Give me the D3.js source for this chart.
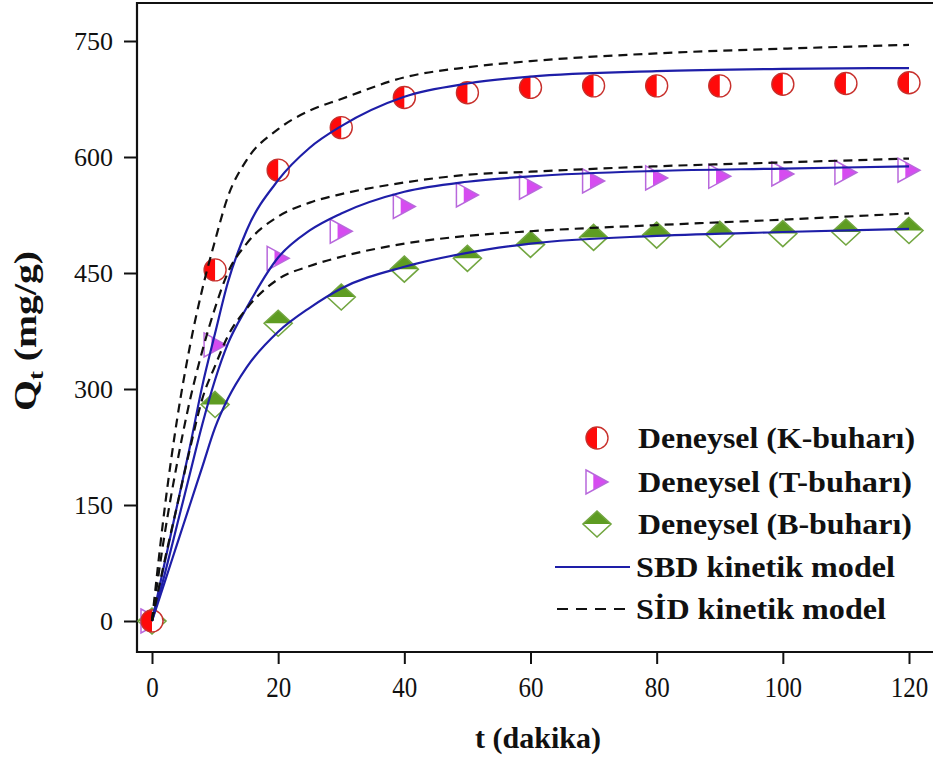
<!DOCTYPE html>
<html>
<head>
<meta charset="utf-8">
<script src="https://cdn.jsdelivr.net/npm/d3@7"></script>
<style>
  html, body { margin: 0; padding: 0; background: #fff; }
  svg { display: block; }
</style>
</head>
<body>
<script>
// measured data, t in minutes
const times = [0, 10, 20, 30, 40, 50, 60, 70, 80, 90, 100, 110, 120];
const qK = [0, 454, 583, 638, 677, 683, 690, 692, 692, 692, 694, 695, 696];
const qT = [0, 357, 469, 504, 536, 551, 561, 569, 573, 575, 578, 580, 583];
const qB = [0, 280, 385, 419, 455, 469, 487, 496, 499, 500, 501, 503, 505];

// model curves
const tModel = [0, 2, 4, 6, 8, 10, 12, 15, 20, 25, 30, 40, 50, 60, 80, 100, 120];
const sbdK = [0, 75, 150, 225, 305, 372, 437, 505, 570, 612, 640, 678, 695, 704, 711, 714, 715];
const sbdT = [0, 60, 125, 190, 255, 312, 358, 405, 470, 505, 527, 555, 568, 575, 582, 585, 588];
const sbdB = [0, 50, 100, 150, 200, 250, 287, 328, 374, 405, 430, 458, 476, 488, 498, 503, 507];
const sidK = [0, 145, 262, 355, 430, 492, 548, 596, 636, 660, 675, 703, 716, 724, 734, 740, 745];
const sidT = [0, 112, 205, 285, 350, 405, 450, 488, 523, 541, 552, 567, 577, 581, 588, 593, 598];
const sidB = [0, 78, 150, 222, 288, 330, 368, 404, 442, 459, 471, 488, 498, 504, 512, 519, 527];

const xTicks = [0, 20, 40, 60, 80, 100, 120];
const yTicks = [0, 150, 300, 450, 600, 750];
const legendLabels = ["Deneysel (K-buharı)", "Deneysel (T-buharı)", "Deneysel (B-buharı)", "SBD kinetik model", "SİD kinetik model"];

const SERIF = '"Liberation Serif", "Times New Roman", serif';
const width = 933, height = 760;
const frame = {left: 137, top: 3, bottom: 652, right: 933};

const svg = d3.select("body").append("svg").attr("width", width).attr("height", height);

const x = d3.scaleLinear().domain([0, 120]).range([152, 909]);
const y = d3.scaleLinear().domain([0, 750]).range([621, 41]);

// axes
const yAxis = svg.append("g")
    .attr("transform", `translate(${frame.left},0)`)
    .call(d3.axisLeft(y).tickValues(yTicks).tickSize(13).tickPadding(11).tickFormat(d3.format("d")));
yAxis.select(".domain").remove();
yAxis.selectAll("line").attr("stroke", "#111").attr("stroke-width", 2);
yAxis.selectAll("text")
    .style("font-family", SERIF).style("font-size", "26px").attr("fill", "#111")
    .attr("textLength", d => String(d).length * 13)
    .attr("lengthAdjust", "spacingAndGlyphs");

const xAxis = svg.append("g")
    .attr("transform", `translate(0,${frame.bottom})`)
    .call(d3.axisBottom(x).tickValues(xTicks).tickSize(12).tickPadding(12).tickFormat(d3.format("d")));
xAxis.select(".domain").remove();
xAxis.selectAll("line").attr("stroke", "#111").attr("stroke-width", 2);
xAxis.selectAll("text")
    .style("font-family", SERIF).style("font-size", "29px").attr("fill", "#111")
    .attr("textLength", d => String(d).length * 12.5)
    .attr("lengthAdjust", "spacingAndGlyphs");

// frame (right edge is cut off in the original)
svg.append("path")
    .attr("d", `M${frame.right},${frame.top}H${frame.left}V${frame.bottom}H${frame.right}`)
    .attr("fill", "none").attr("stroke", "#111").attr("stroke-width", 2.2);

// axis titles
const yTitle = svg.append("text")
    .attr("transform", "translate(36,331) rotate(-90)")
    .attr("text-anchor", "middle")
    .attr("textLength", 160)
    .attr("lengthAdjust", "spacingAndGlyphs")
    .attr("fill", "#111")
    .style("font-family", SERIF).style("font-size", "31px").style("font-weight", "bold");
yTitle.append("tspan").text("Q");
yTitle.append("tspan").text("t").style("font-size", "21px").attr("dy", "7");
yTitle.append("tspan").text(" (mg/g)").attr("dy", "-7");

svg.append("text")
    .attr("x", 538).attr("y", 748)
    .attr("text-anchor", "middle")
    .attr("textLength", 126)
    .attr("lengthAdjust", "spacingAndGlyphs")
    .attr("fill", "#111")
    .style("font-family", SERIF).style("font-size", "30px").style("font-weight", "bold")
    .text("t (dakika)");

// marker shapes
function circleMarker(g, r) {
    g.append("circle").attr("r", r).attr("fill", "#fff");
    g.append("path").attr("d", `M0,${-r}A${r},${r} 0 0 0 0,${r}Z`).attr("fill", "#ff0a0a");
    g.append("circle").attr("r", r).attr("fill", "none").attr("stroke", "#c8302c").attr("stroke-width", 1.4);
}
function triangleMarker(g, w, h) {
    const s = -w / 6;
    g.append("path").attr("d", `M${-w / 2},${-h / 2}L${w / 2},0L${-w / 2},${h / 2}Z`)
        .attr("fill", "#fff");
    g.append("path").attr("d", `M${s},${-h / 3}L${w / 2},0L${s},${h / 3}Z`).attr("fill", "#d64cf0");
    g.append("path").attr("d", `M${-w / 2},${-h / 2}L${w / 2},0L${-w / 2},${h / 2}Z`)
        .attr("fill", "none").attr("stroke", "#b868dc").attr("stroke-width", 1.5);
}
function diamondMarker(g, w, h) {
    g.append("path").attr("d", `M0,${-h / 2}L${w / 2},0L0,${h / 2}L${-w / 2},0Z`).attr("fill", "#fff");
    g.append("path").attr("d", `M0,${-h / 2}L${w / 2},0L${-w / 2},0Z`).attr("fill", "#5e9c22");
    g.append("path").attr("d", `M0,${-h / 2}L${w / 2},0L0,${h / 2}L${-w / 2},0Z`)
        .attr("fill", "none").attr("stroke", "#72a640").attr("stroke-width", 1.6);
}

const series = [
    {q: qB, draw: g => diamondMarker(g, 28, 26)},
    {q: qT, draw: g => triangleMarker(g, 22, 24)},
    {q: qK, draw: g => circleMarker(g, 11)}
];

series.forEach(s => {
    svg.append("g").selectAll("g")
        .data(times.map((t, i) => [t, s.q[i]]))
        .join("g")
        .attr("transform", d => `translate(${x(d[0])},${y(d[1])})`)
        .each(function () { s.draw(d3.select(this)); });
});

// model lines
const line = d3.line()
    .x(d => x(d[0]))
    .y(d => y(d[1]))
    .curve(d3.curveMonotoneX);

[sbdK, sbdT, sbdB].forEach(q => {
    svg.append("path")
        .datum(tModel.map((t, i) => [t, q[i]]))
        .attr("d", line)
        .attr("fill", "none").attr("stroke", "#1e1ea8").attr("stroke-width", 2.2);
});
[sidK, sidT, sidB].forEach(q => {
    svg.append("path")
        .datum(tModel.map((t, i) => [t, q[i]]))
        .attr("d", line)
        .attr("fill", "none").attr("stroke", "#111").attr("stroke-width", 2.2)
        .attr("stroke-dasharray", "9,6");
});

// legend
const legendY = [438, 482, 524, 567, 609];
const legendLen = [277, 274, 274, 259, 250];
const lg = svg.append("g");

circleMarker(lg.append("g").attr("transform", `translate(597,${legendY[0]})`), 11);
triangleMarker(lg.append("g").attr("transform", `translate(597,${legendY[1]})`), 22, 24);
diamondMarker(lg.append("g").attr("transform", `translate(597,${legendY[2]})`), 28, 26);

lg.append("line").attr("x1", 555).attr("x2", 630).attr("y1", legendY[3]).attr("y2", legendY[3])
    .attr("stroke", "#1e1ea8").attr("stroke-width", 2.2);
lg.append("line").attr("x1", 557).attr("x2", 630).attr("y1", legendY[4]).attr("y2", legendY[4])
    .attr("stroke", "#111").attr("stroke-width", 2.2).attr("stroke-dasharray", "11,8");

lg.selectAll("text.lab")
    .data(legendLabels)
    .join("text")
    .attr("class", "lab")
    .attr("x", (d, i) => i < 3 ? 638 : 636)
    .attr("y", (d, i) => legendY[i])
    .attr("dy", "0.35em")
    .attr("fill", "#111")
    .style("font-family", SERIF).style("font-size", "29px").style("font-weight", "bold")
    .attr("textLength", (d, i) => legendLen[i])
    .attr("lengthAdjust", "spacingAndGlyphs")
    .text(d => d);
</script>
</body>
</html>
